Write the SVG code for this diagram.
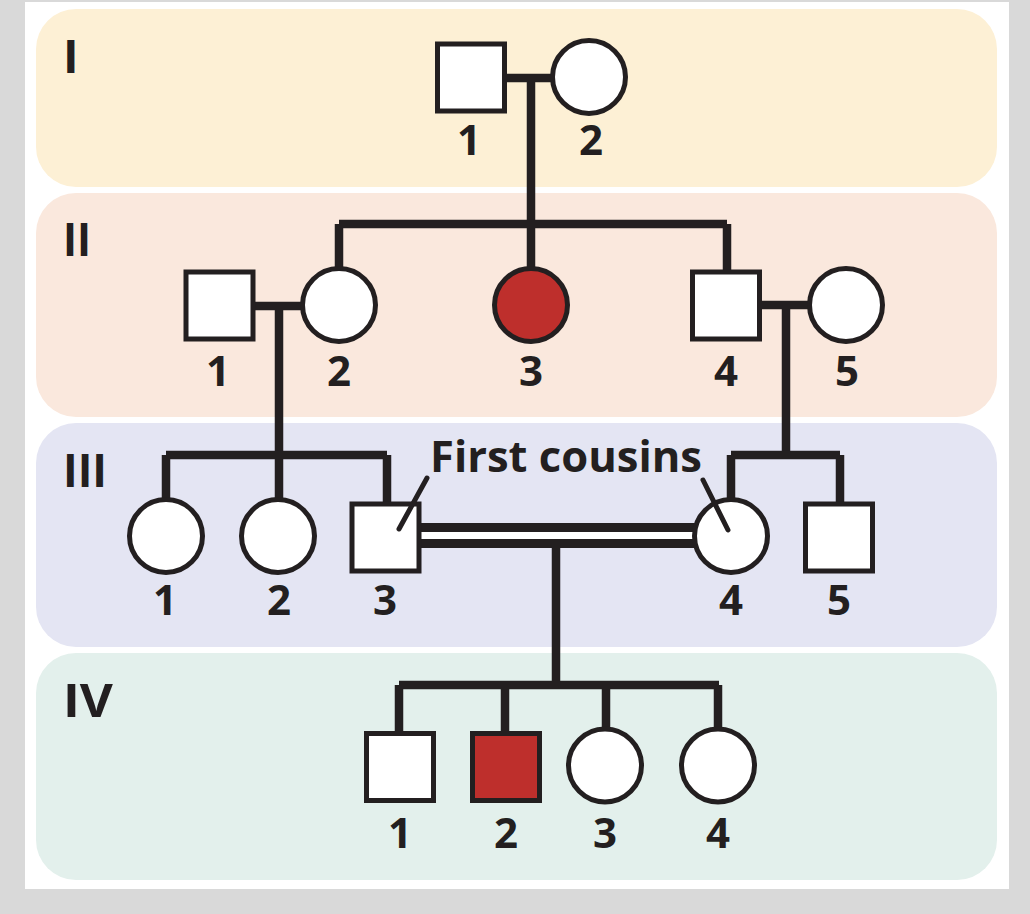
<svg xmlns="http://www.w3.org/2000/svg" width="1030" height="914" viewBox="0 0 1030 914">
<defs>
<style>
.band{stroke:none}
.roman{font-family:"Open Sans","Liberation Sans",sans-serif;font-weight:700;font-size:47px;fill:#231f20}
.lbl{font-family:"Open Sans","Liberation Sans",sans-serif;font-weight:700;font-size:42px;fill:#231f20;text-anchor:middle}
.note{font-family:"Open Sans","Liberation Sans",sans-serif;font-weight:700;font-size:43px;fill:#231f20}
.sq{fill:#ffffff;stroke:#231f20;stroke-width:5}
.ci{fill:#ffffff;stroke:#231f20;stroke-width:5}
.aff{fill:#be2f2c}
.ln{fill:none;stroke:#231f20;stroke-width:8.5;stroke-linecap:butt;stroke-linejoin:miter}
.ptr{fill:none;stroke:#231f20;stroke-width:5;stroke-linecap:round}
</style>
</defs>
<rect x="0" y="0" width="1030" height="914" fill="#d9d9d9"/>
<rect x="25" y="2" width="984" height="887" fill="#ffffff"/>
<g id="bands">
<rect class="band" x="36" y="9" width="961" height="178" rx="40" fill="#fdf0d5"/>
<rect class="band" x="36" y="193" width="961" height="224" rx="40" fill="#fae8dd"/>
<rect class="band" x="36" y="423" width="961" height="224" rx="40" fill="#e4e5f3"/>
<rect class="band" x="36" y="653" width="961" height="227" rx="40" fill="#e3f0ec"/>
</g>
<g id="generation-labels">
<text class="roman" x="63" y="73">I</text>
<text class="roman" x="63" y="256" textLength="28" lengthAdjust="spacingAndGlyphs">II</text>
<text class="roman" x="63" y="487" textLength="44" lengthAdjust="spacingAndGlyphs">III</text>
<text class="roman" x="63" y="717" textLength="50" lengthAdjust="spacingAndGlyphs">IV</text>
</g>
<g id="connectors">
<path class="ln" d="M505 78 H553 M531 78 V224"/>
<path class="ln" d="M339 224 H727 M339 224 V268 M531 224 V268 M727 224 V271"/>
<path class="ln" d="M254 306 H304 M279 306 V455"/>
<path class="ln" d="M760 305 H810 M786 305 V455"/>
<path class="ln" d="M166 455 H387 M166 455 V499 M279 455 V499 M387 455 V503"/>
<path class="ln" d="M731 455 H840 M731 455 V499 M840 455 V503"/>
<path d="M418 535.5 H696" fill="none" stroke="#231f20" stroke-width="25"/>
<path d="M418 535.5 H696" fill="none" stroke="#ffffff" stroke-width="7"/>
<path class="ln" d="M556 547 V685 M399 685 H719 M399 685 V733 M505 685 V733 M606 685 V728 M718 685 V728"/>
</g>
<g id="I-1"><rect class="sq" x="437.5" y="44" width="67" height="67"/><text class="lbl" x="469" y="155">1</text></g>
<g id="I-2"><circle class="ci" cx="589" cy="77" r="36.5"/><text class="lbl" x="591" y="155">2</text></g>
<g id="II-1"><rect class="sq" x="186" y="272" width="67" height="67"/><text class="lbl" x="218" y="386">1</text></g>
<g id="II-2"><circle class="ci" cx="339" cy="305" r="36.5"/><text class="lbl" x="339" y="386">2</text></g>
<g id="II-3"><circle class="ci aff" cx="531" cy="305" r="36.5"/><text class="lbl" x="531" y="386">3</text></g>
<g id="II-4"><rect class="sq" x="692.5" y="272" width="67" height="67"/><text class="lbl" x="726" y="386">4</text></g>
<g id="II-5"><circle class="ci" cx="846" cy="305" r="36.5"/><text class="lbl" x="847" y="386">5</text></g>
<g id="III-1"><circle class="ci" cx="166" cy="536" r="36.5"/><text class="lbl" x="165" y="615">1</text></g>
<g id="III-2"><circle class="ci" cx="278" cy="536" r="36.5"/><text class="lbl" x="279" y="615">2</text></g>
<g id="III-3"><rect class="sq" x="352" y="504" width="67" height="67"/><text class="lbl" x="385" y="615">3</text></g>
<g id="III-4"><circle class="ci" cx="731" cy="536" r="36.5"/><text class="lbl" x="731" y="615">4</text></g>
<g id="III-5"><rect class="sq" x="805.5" y="504" width="67" height="67"/><text class="lbl" x="839" y="615">5</text></g>
<g id="IV-1"><rect class="sq" x="366.5" y="733.5" width="67" height="67"/><text class="lbl" x="400" y="848">1</text></g>
<g id="IV-2"><rect class="sq aff" x="472.5" y="733.5" width="67" height="67"/><text class="lbl" x="506" y="848">2</text></g>
<g id="IV-3"><circle class="ci" cx="605" cy="765.5" r="36.5"/><text class="lbl" x="605" y="848">3</text></g>
<g id="IV-4"><circle class="ci" cx="718" cy="765.5" r="36.5"/><text class="lbl" x="718" y="848">4</text></g>
<g id="first-cousins-note">
<text class="note" x="430" y="472" textLength="272" lengthAdjust="spacingAndGlyphs">First cousins</text>
<path class="ptr" d="M427 478 L399 529 M703 480 L728 530"/>
</g>
</svg>
